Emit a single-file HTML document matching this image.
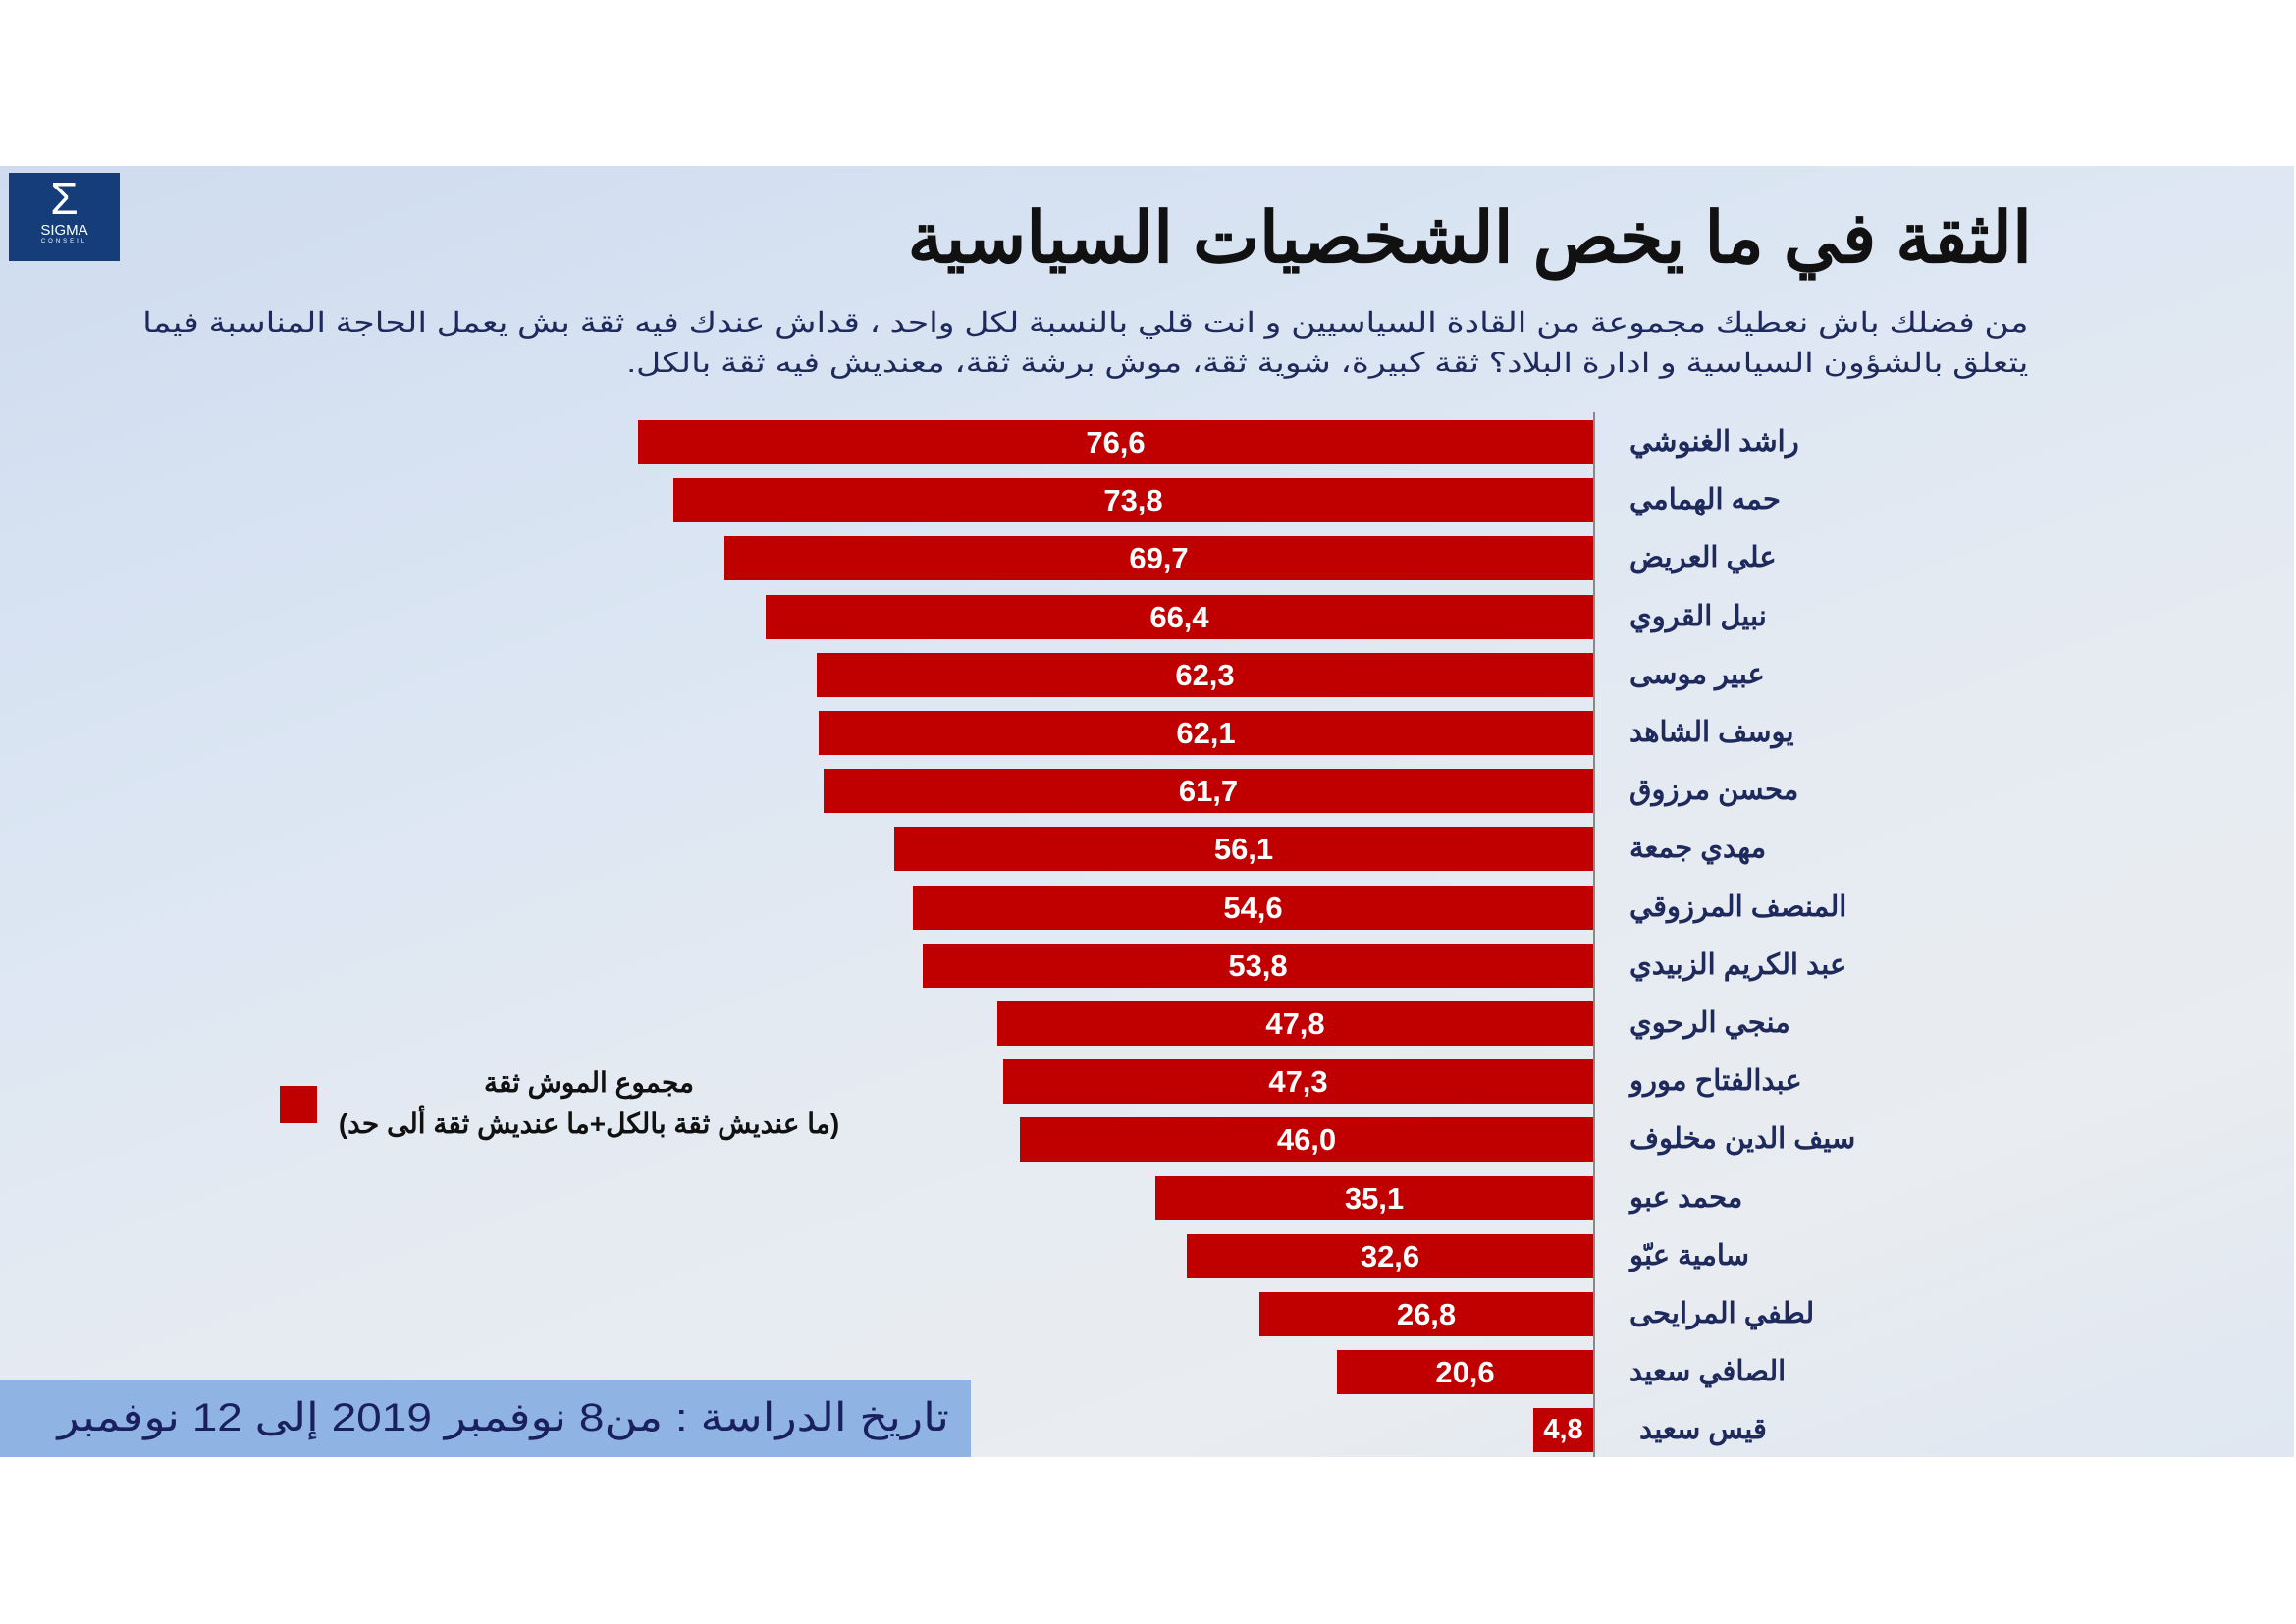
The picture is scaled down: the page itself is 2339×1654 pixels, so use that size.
<!DOCTYPE html>
<html><head><meta charset="utf-8"><style>
body{margin:0;width:2339px;height:1654px;background:#fff;position:relative;overflow:hidden;font-family:"Liberation Sans","Noto Sans CJK SC",sans-serif}
#panel{position:absolute;left:0;top:169px;width:2337px;height:1315px;background:linear-gradient(160deg,#cfdcef 0%,#dce6f3 35%,#e6ebf2 60%,#e9ecf0 80%,#dfe7f2 100%)}
.a{position:absolute}
.bar{position:absolute;height:45px;background:#c00000;color:#fff;font-weight:bold;font-size:31px;line-height:45px;text-align:center}
.nm{position:absolute;left:1660px;font-weight:bold;font-size:29px;color:#1f2a5c;direction:rtl;text-align:left;line-height:45px;white-space:nowrap}
</style></head><body>
<div id="panel"></div>
<div class="a" style="left:9px;top:176px;width:113px;height:90px;background:#153d7a;color:#fff;text-align:center">
<div style="font-size:46px;line-height:48px;margin-top:2px">Σ</div><div style="font-size:15px">SIGMA</div><div style="font-size:6px;letter-spacing:3px">CONSEIL</div></div>
<div class="a" style="right:269px;top:200px;font-size:72px;font-weight:bold;color:#111;direction:rtl;white-space:nowrap">الثقة في ما يخص الشخصيات السياسية</div>
<div class="a" style="right:273px;top:308px;font-size:28px;line-height:41px;color:#1f2a5c;direction:rtl;text-align:right;white-space:nowrap;transform:scaleX(1.24);transform-origin:right top">من فضلك باش نعطيك مجموعة من القادة السياسيين و انت قلي بالنسبة لكل واحد ، قداش عندك فيه ثقة بش يعمل الحاجة المناسبة فيما<br>يتعلق بالشؤون السياسية و ادارة البلاد؟ ثقة كبيرة، شوية ثقة، موش برشة ثقة، معنديش فيه ثقة بالكل.</div>
<div class="a" style="left:1623px;top:420px;width:2px;height:1064px;background:#888"></div>
<div class="bar" style="left:650px;width:973px;top:428px">76,6</div>
<div class="bar" style="left:686px;width:937px;top:487px">73,8</div>
<div class="bar" style="left:738px;width:885px;top:546px">69,7</div>
<div class="bar" style="left:780px;width:843px;top:606px">66,4</div>
<div class="bar" style="left:832px;width:791px;top:665px">62,3</div>
<div class="bar" style="left:834px;width:789px;top:724px">62,1</div>
<div class="bar" style="left:839px;width:784px;top:783px">61,7</div>
<div class="bar" style="left:911px;width:712px;top:842px">56,1</div>
<div class="bar" style="left:930px;width:693px;top:902px">54,6</div>
<div class="bar" style="left:940px;width:683px;top:961px">53,8</div>
<div class="bar" style="left:1016px;width:607px;top:1020px">47,8</div>
<div class="bar" style="left:1022px;width:601px;top:1079px">47,3</div>
<div class="bar" style="left:1039px;width:584px;top:1138px">46,0</div>
<div class="bar" style="left:1177px;width:446px;top:1198px">35,1</div>
<div class="bar" style="left:1209px;width:414px;top:1257px">32,6</div>
<div class="bar" style="left:1283px;width:340px;top:1316px">26,8</div>
<div class="bar" style="left:1362px;width:261px;top:1375px">20,6</div>
<div class="bar" style="left:1562px;width:61px;top:1434px;font-size:29px">4,8</div>
<div class="nm" style="top:428px">راشد الغنوشي</div>
<div class="nm" style="top:487px">حمه الهمامي</div>
<div class="nm" style="top:546px">علي العريض</div>
<div class="nm" style="top:606px">نبيل القروي</div>
<div class="nm" style="top:665px">عبير موسى</div>
<div class="nm" style="top:724px">يوسف الشاهد</div>
<div class="nm" style="top:783px">محسن مرزوق</div>
<div class="nm" style="top:842px">مهدي جمعة</div>
<div class="nm" style="top:902px">المنصف المرزوقي</div>
<div class="nm" style="top:961px">عبد الكريم الزبيدي</div>
<div class="nm" style="top:1020px">منجي الرحوي</div>
<div class="nm" style="top:1079px">عبدالفتاح مورو</div>
<div class="nm" style="top:1138px">سيف الدين مخلوف</div>
<div class="nm" style="top:1198px">محمد عبو</div>
<div class="nm" style="top:1257px">سامية عبّو</div>
<div class="nm" style="top:1316px">لطفي المرايحى</div>
<div class="nm" style="top:1375px">الصافي سعيد</div>
<div class="nm" style="top:1434px;left:1670px">قيس سعيد</div>
<div class="a" style="left:285px;top:1106px;width:38px;height:38px;background:#c00000"></div>
<div class="a" style="left:330px;width:540px;top:1082px;font-size:28px;font-weight:bold;line-height:42px;color:#111;text-align:center;direction:rtl">مجموع الموش ثقة<br>(ما عنديش ثقة بالكل+ما عنديش ثقة ألى حد)</div>
<div class="a" style="left:0;top:1405px;width:989px;height:79px;background:#8fb4e3"></div>
<div class="a" style="right:1372px;top:1418px;font-size:40px;line-height:52px;color:#1a1f5e;text-align:right;direction:rtl;white-space:nowrap;transform:scaleX(1.15);transform-origin:right top">تاريخ الدراسة : من8 نوفمبر 2019 إلى 12 نوفمبر</div>
</body></html>
